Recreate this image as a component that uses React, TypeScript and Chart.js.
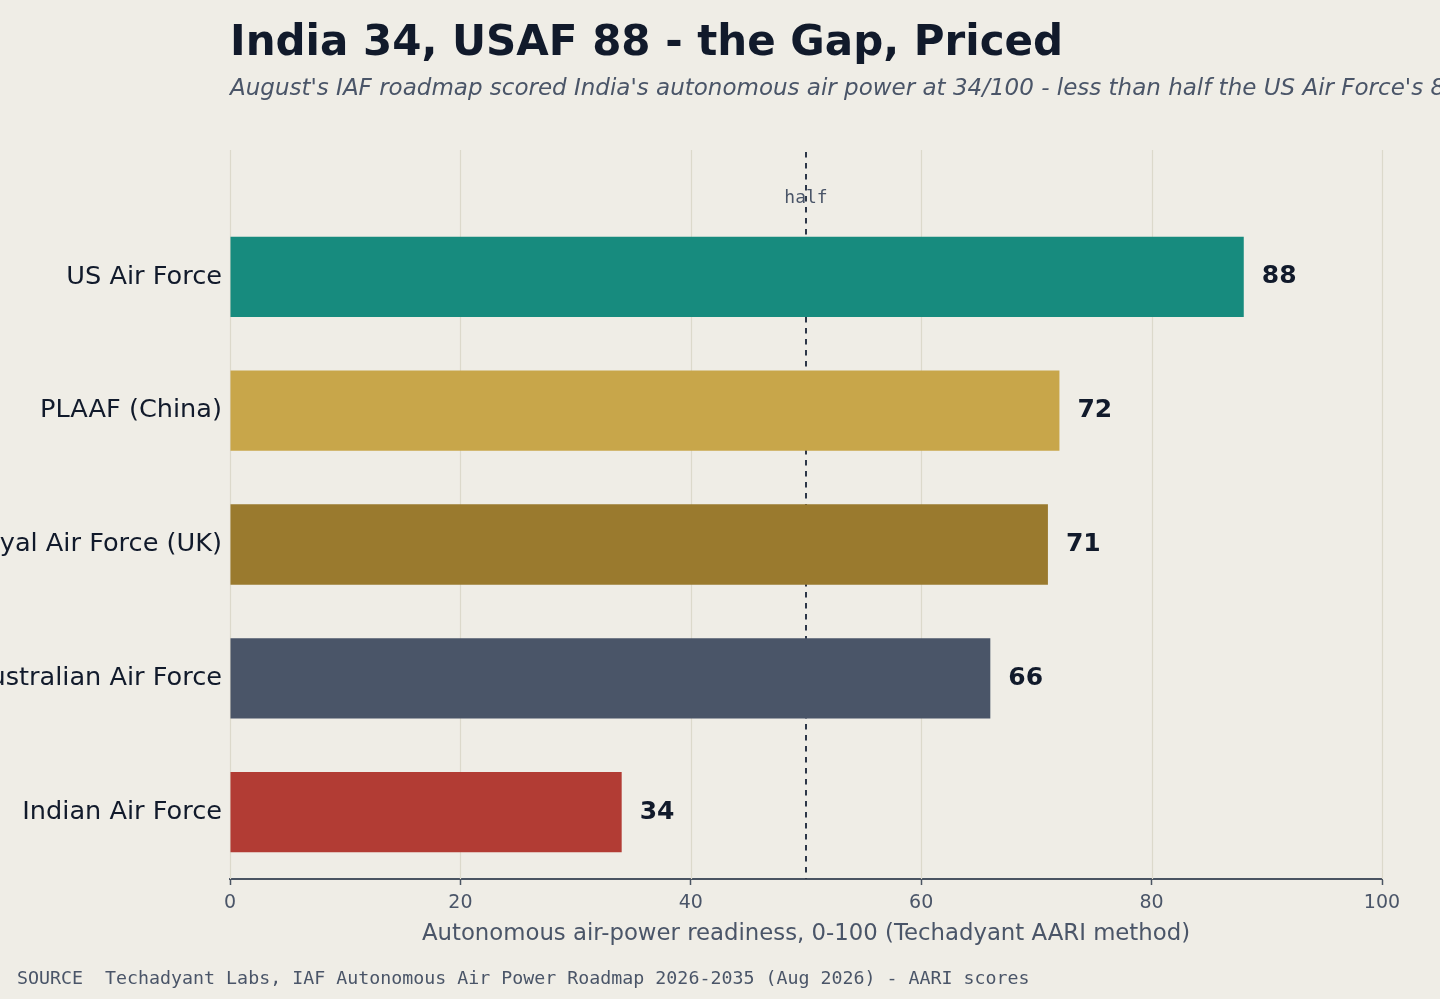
import { useEffect, useRef } from 'react';
import { Chart, registerables } from 'chart.js';

Chart.register(...registerables);

// chart values
const forces = [
  'US Air Force',
  'PLAAF (China)',
  'Royal Air Force (UK)',
  'Royal Australian Air Force',
  'Indian Air Force',
];
const scores = [88, 72, 71, 66, 34];
const barColors = ['#178b7e', '#c8a64a', '#9a7a2e', '#4a5568', '#b23c34'];
const xTicks = [0, 20, 40, 60, 80, 100];
const halfMark = 50;

const titleText = 'India 34, USAF 88 - the Gap, Priced';
const subtitleText =
  "August's IAF roadmap scored India's autonomous air power at 34/100 - less than half the US Air Force's 88.";
const sourceText =
  'SOURCE  Techadyant Labs, IAF Autonomous Air Power Roadmap 2026-2035 (Aug 2026) - AARI scores';
const axisTitle = 'Autonomous air-power readiness, 0-100 (Techadyant AARI method)';

const BG = '#efede6';
const INK = '#111a2b';
const MUTED = '#4a5568';
const SANS = '"DejaVu Sans", sans-serif';
const MONO = '"DejaVu Sans Mono", monospace';

const GRID_TOP = 150;

const overlay = {
  id: 'overlay',
  beforeDatasetsDraw(chart: any) {
    const { ctx, chartArea, scales } = chart;
    const x = scales.x;
    ctx.save();
    // vertical grid, reaching above the plot area
    ctx.strokeStyle = '#dcd9cb';
    ctx.lineWidth = 1.2;
    xTicks.forEach((t) => {
      const px = Math.round(x.getPixelForValue(t)) + 0.5;
      ctx.beginPath();
      ctx.moveTo(px, GRID_TOP);
      ctx.lineTo(px, chartArea.bottom);
      ctx.stroke();
    });
    // half reference line
    const hx = x.getPixelForValue(halfMark);
    ctx.strokeStyle = '#2d3748';
    ctx.lineWidth = 2;
    ctx.setLineDash([5.5, 5.5]);
    ctx.beginPath();
    ctx.moveTo(hx, GRID_TOP + 2);
    ctx.lineTo(hx, chartArea.bottom);
    ctx.stroke();
    ctx.setLineDash([]);
    ctx.fillStyle = MUTED;
    ctx.font = `18px ${MONO}`;
    ctx.textAlign = 'center';
    ctx.textBaseline = 'alphabetic';
    ctx.fillText('half', hx, 203);
    ctx.restore();
  },
  afterDatasetsDraw(chart: any) {
    const { ctx } = chart;
    const meta = chart.getDatasetMeta(0);
    ctx.save();
    ctx.fillStyle = INK;
    ctx.font = `bold 25px ${SANS}`;
    ctx.textAlign = 'left';
    ctx.textBaseline = 'middle';
    meta.data.forEach((bar: any, i: number) => {
      ctx.fillText(String(scores[i]), bar.x + 18, bar.y);
    });
    ctx.restore();
  },
  afterDraw(chart: any) {
    const { ctx, chartArea } = chart;
    ctx.save();
    ctx.textAlign = 'left';
    ctx.textBaseline = 'alphabetic';
    ctx.fillStyle = INK;
    ctx.font = `bold 42px ${SANS}`;
    ctx.fillText(titleText, chartArea.left, 55);
    ctx.fillStyle = MUTED;
    ctx.font = `italic 23px ${SANS}`;
    ctx.fillText(subtitleText, chartArea.left, 95);
    ctx.font = `18.3px ${MONO}`;
    ctx.fillText(sourceText, 17, 984);
    ctx.restore();
  },
};

export default function App() {
  const chartRef = useRef<HTMLCanvasElement>(null);
  const chartInstance = useRef<Chart | null>(null);

  useEffect(() => {
    document.body.style.margin = '0';
    document.body.style.background = BG;
    if (!chartRef.current) return;
    if (chartInstance.current) chartInstance.current.destroy();

    const ctx = chartRef.current.getContext('2d');
    if (!ctx) return;

    chartInstance.current = new Chart(ctx, {
      type: 'bar',
      data: {
        labels: forces,
        datasets: [
          {
            data: scores,
            backgroundColor: barColors,
            borderWidth: 0,
            barPercentage: 0.6,
            categoryPercentage: 1,
          },
        ],
      },
      plugins: [overlay],
      options: {
        indexAxis: 'y',
        responsive: true,
        maintainAspectRatio: false,
        animation: false,
        layout: { padding: { top: 210, right: 58, bottom: 40, left: 0 } },
        plugins: {
          legend: { display: false },
          tooltip: { enabled: false },
        },
        scales: {
          x: {
            type: 'linear',
            min: 0,
            max: 100,
            afterBuildTicks: (scale: any) => {
              scale.ticks = xTicks.map((v) => ({ value: v }));
            },
            afterFit: (scale: any) => {
              scale.height = 80;
            },
            grid: {
              display: true,
              drawOnChartArea: false,
              drawTicks: true,
              tickLength: 6,
              tickColor: '#4a5462',
              tickWidth: 1.5,
            },
            border: { display: true, color: '#4a5462', width: 2 },
            ticks: {
              color: MUTED,
              padding: 7,
              font: { family: SANS, size: 19 },
            },
            title: {
              display: true,
              text: axisTitle,
              color: MUTED,
              padding: { top: 0, bottom: 11 },
              font: { family: SANS, size: 22.8 },
            },
          },
          y: {
            afterFit: (scale: any) => {
              scale.width = 230;
            },
            grid: { display: false, drawTicks: false },
            border: { display: false },
            ticks: {
              color: INK,
              padding: 8,
              font: { family: SANS, size: 25.6 },
            },
          },
        },
      },
    });

    return () => {
      if (chartInstance.current) {
        chartInstance.current.destroy();
        chartInstance.current = null;
      }
    };
  }, []);

  return (
    <div style={{ width: 1440, height: 999, background: BG, position: 'relative', overflow: 'hidden' }}>
      <canvas ref={chartRef} />
    </div>
  );
}
